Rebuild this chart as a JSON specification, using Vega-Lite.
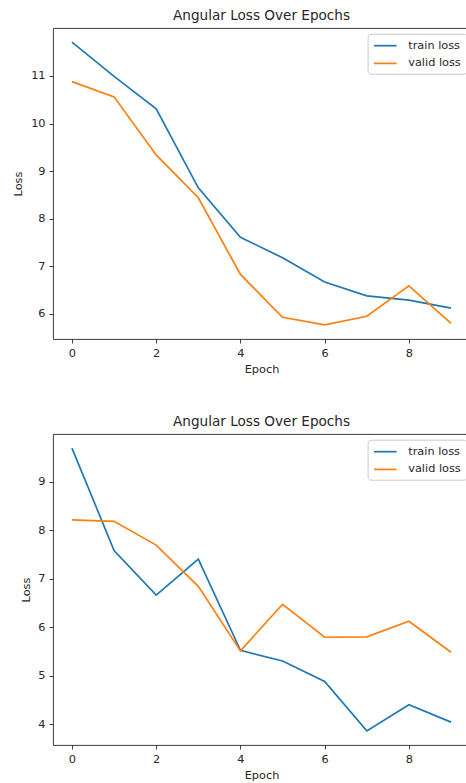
{
  "$schema": "https://vega.github.io/schema/vega-lite/v6.json",
  "padding": {"left": 12, "top": 8, "right": 0, "bottom": 0},
  "background": "white",
  "config": {
    "font": "DejaVu Sans",
    "view": {"stroke": "#262626", "strokeWidth": 0.9},
    "axis": {
      "domain": false, "grid": false,
      "tickSize": 4, "tickColor": "#262626", "tickWidth": 0.9,
      "labelFont": "DejaVu Sans", "labelFontSize": 11.3, "labelColor": "#262626", "labelPadding": 4,
      "titleFont": "DejaVu Sans", "titleFontSize": 11.3, "titleFontWeight": "normal", "titleColor": "#262626", "titlePadding": 5
    },
    "axisY": {"titlePadding": 7},
    "title": {"font": "DejaVu Sans", "fontSize": 13.6, "fontWeight": "normal", "color": "#262626", "offset": 5},
    "legend": {
      "title": null,
      "orient": "none",
      "legendX": 314.6,
      "legendY": 5.7,
      "symbolType": "M-2,0H2",
      "symbolSize": 128,
      "symbolOffset": 5.65,
      "symbolStrokeWidth": 1.7,
      "labelFont": "DejaVu Sans",
      "labelFontSize": 11.3,
      "labelColor": "#262626",
      "labelOffset": 16,
      "padding": 5,
      "rowPadding": 4.7,
      "strokeColor": "#cccccc",
      "fillColor": "rgba(255,255,255,0.8)",
      "cornerRadius": 3
    },
    "concat": {"spacing": 38}
  },
  "datasets": {
    "top": [
      {"epoch": 0, "loss": 11.71, "series": "train loss"},
      {"epoch": 1, "loss": 10.99, "series": "train loss"},
      {"epoch": 2, "loss": 10.31, "series": "train loss"},
      {"epoch": 3, "loss": 8.65, "series": "train loss"},
      {"epoch": 4, "loss": 7.61, "series": "train loss"},
      {"epoch": 5, "loss": 7.18, "series": "train loss"},
      {"epoch": 6, "loss": 6.67, "series": "train loss"},
      {"epoch": 7, "loss": 6.38, "series": "train loss"},
      {"epoch": 8, "loss": 6.29, "series": "train loss"},
      {"epoch": 9, "loss": 6.12, "series": "train loss"},
      {"epoch": 0, "loss": 10.88, "series": "valid loss"},
      {"epoch": 1, "loss": 10.56, "series": "valid loss"},
      {"epoch": 2, "loss": 9.34, "series": "valid loss"},
      {"epoch": 3, "loss": 8.44, "series": "valid loss"},
      {"epoch": 4, "loss": 6.83, "series": "valid loss"},
      {"epoch": 5, "loss": 5.93, "series": "valid loss"},
      {"epoch": 6, "loss": 5.77, "series": "valid loss"},
      {"epoch": 7, "loss": 5.95, "series": "valid loss"},
      {"epoch": 8, "loss": 6.59, "series": "valid loss"},
      {"epoch": 9, "loss": 5.80, "series": "valid loss"}
    ],
    "bottom": [
      {"epoch": 0, "loss": 9.69, "series": "train loss"},
      {"epoch": 1, "loss": 7.58, "series": "train loss"},
      {"epoch": 2, "loss": 6.66, "series": "train loss"},
      {"epoch": 3, "loss": 7.40, "series": "train loss"},
      {"epoch": 4, "loss": 5.52, "series": "train loss"},
      {"epoch": 5, "loss": 5.30, "series": "train loss"},
      {"epoch": 6, "loss": 4.88, "series": "train loss"},
      {"epoch": 7, "loss": 3.86, "series": "train loss"},
      {"epoch": 8, "loss": 4.40, "series": "train loss"},
      {"epoch": 9, "loss": 4.04, "series": "train loss"},
      {"epoch": 0, "loss": 8.21, "series": "valid loss"},
      {"epoch": 1, "loss": 8.18, "series": "valid loss"},
      {"epoch": 2, "loss": 7.69, "series": "valid loss"},
      {"epoch": 3, "loss": 6.84, "series": "valid loss"},
      {"epoch": 4, "loss": 5.51, "series": "valid loss"},
      {"epoch": 5, "loss": 6.47, "series": "valid loss"},
      {"epoch": 6, "loss": 5.79, "series": "valid loss"},
      {"epoch": 7, "loss": 5.80, "series": "valid loss"},
      {"epoch": 8, "loss": 6.12, "series": "valid loss"},
      {"epoch": 9, "loss": 5.48, "series": "valid loss"}
    ]
  },
  "resolve": {"scale": {"color": "independent"}, "legend": {"color": "independent"}},
  "vconcat": [
    {
      "title": "Angular Loss Over Epochs",
      "width": 417,
      "height": 311,
      "data": {"name": "top"},
      "mark": {"type": "line", "strokeWidth": 1.7},
      "encoding": {
        "x": {"field": "epoch", "type": "quantitative",
              "scale": {"domain": [-0.45, 9.45], "nice": false, "zero": false},
              "axis": {"values": [0, 2, 4, 6, 8], "title": "Epoch"}},
        "y": {"field": "loss", "type": "quantitative",
              "scale": {"domain": [5.473, 12.007], "nice": false, "zero": false},
              "axis": {"values": [6, 7, 8, 9, 10, 11], "title": "Loss"}},
        "color": {"field": "series", "type": "nominal",
                  "scale": {"domain": ["train loss", "valid loss"], "range": ["#1f77b4", "#ff7f0e"]}}
      }
    },
    {
      "title": "Angular Loss Over Epochs",
      "width": 417,
      "height": 311,
      "data": {"name": "bottom"},
      "mark": {"type": "line", "strokeWidth": 1.7},
      "encoding": {
        "x": {"field": "epoch", "type": "quantitative",
              "scale": {"domain": [-0.45, 9.45], "nice": false, "zero": false},
              "axis": {"values": [0, 2, 4, 6, 8], "title": "Epoch"}},
        "y": {"field": "loss", "type": "quantitative",
              "scale": {"domain": [3.5685, 9.9815], "nice": false, "zero": false},
              "axis": {"values": [4, 5, 6, 7, 8, 9], "title": "Loss", "titlePadding": 6}},
        "color": {"field": "series", "type": "nominal",
                  "scale": {"domain": ["train loss", "valid loss"], "range": ["#1f77b4", "#ff7f0e"]}}
      }
    }
  ]
}
